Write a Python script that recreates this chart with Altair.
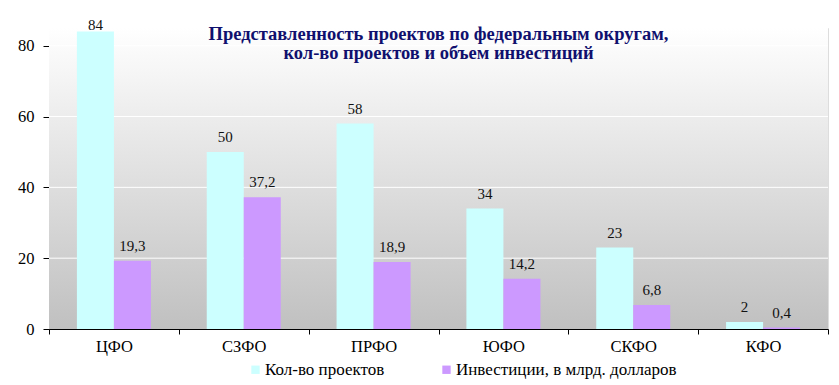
import altair as alt
import pandas as pd

districts = ["ЦФО", "СЗФО", "ПРФО", "ЮФО", "СКФО", "КФО"]
series_names = ["Кол-во проектов", "Инвестиции, в млрд. долларов"]
projects = [84, 50, 58, 34, 23, 2]
investments = [19.3, 37.2, 18.9, 14.2, 6.8, 0.4]
colors = ["#CCFFFF", "#CC99FF"]
y_ticks = [0, 20, 40, 60, 80]

rows = []
for d, p, inv in zip(districts, projects, investments):
    rows.append({"district": d, "series": series_names[0], "value": p, "label": str(p)})
    rows.append({"district": d, "series": series_names[1], "value": inv, "label": str(inv).replace(".", ",")})
df = pd.DataFrame(rows)
grid_df = pd.DataFrame({"value": [t for t in y_ticks if t > 0]})

FONT = "Times New Roman, Liberation Serif, serif"
W, H = 779, 301
Y_MAX = 85

x = alt.X("district:N", sort=districts, title=None,
          scale=alt.Scale(paddingInner=0, paddingOuter=0),
          axis=alt.Axis(labelAngle=0, tickBand="extent", labelFontSize=16.5, labelFont=FONT,
                        labelColor="#000000", tickColor="#000000", domainColor="#000000",
                        tickSize=5, labelPadding=4, grid=False))
xo = alt.XOffset("series:N", sort=series_names,
                 scale=alt.Scale(paddingInner=0, paddingOuter=0.754))
yscale = alt.Scale(domain=[0, Y_MAX], nice=False)
yaxis = alt.Axis(values=y_ticks, labelFontSize=16.5, labelFont=FONT, labelColor="#000000",
                 tickColor="#000000", domainColor="#000000", tickSize=6, labelPadding=9,
                 grid=False)
y = alt.Y("value:Q", title=None, scale=yscale, axis=yaxis)

bg = alt.Chart(pd.DataFrame({"k": [0]})).mark_rect(
    color=alt.LinearGradient(gradient="linear",
                             stops=[alt.GradientStop(color="#ffffff", offset=0),
                                    alt.GradientStop(color="#c0c0c0", offset=1)],
                             x1=0, x2=0, y1=0, y2=1)
).encode(x=alt.value(0), x2=alt.value(W), y=alt.value(0), y2=alt.value(H))

grid = alt.Chart(grid_df).mark_rule(color="#ffffff", strokeWidth=1).encode(y=y)

bars = alt.Chart(df).mark_bar().encode(
    x=x, xOffset=xo, y=y,
    color=alt.Color("series:N", sort=series_names,
                    scale=alt.Scale(domain=series_names, range=colors),
                    legend=alt.Legend(title=None, orient="none", direction="horizontal",
                                      legendX=198, legendY=333, symbolType="square",
                                      symbolSize=70, symbolStrokeWidth=0, labelFontSize=17,
                                      labelFont=FONT, labelColor="#000000", labelOffset=1,
                                      labelLimit=400, columnPadding=53, symbolOpacity=1)),
)

# labels are kept inside the plot area (as the spreadsheet does for the tallest bar)
labels = alt.Chart(df).transform_calculate(
    label_pos="min(datum.value, 81.5)"
).mark_text(baseline="alphabetic", dy=-10, fontSize=15, font=FONT,
            color="#111111").encode(
    x=x, xOffset=xo,
    y=alt.Y("label_pos:Q", title=None, scale=yscale, axis=yaxis),
    text="label:N"
)

chart = alt.layer(bg, grid, bars, labels).properties(
    width=W, height=H,
    autosize=alt.AutoSizeParams(type="none"),
    padding={"left": 41, "top": 20, "right": 3, "bottom": 56},
    title=alt.TitleParams(
        text=["Представленность проектов по федеральным округам,",
              "кол-во проектов и объем инвестиций"],
        font=FONT, fontSize=18.5, fontWeight="bold", color="#10106e",
        anchor="middle", offset=-44, lineHeight=19,
    ),
).configure_view(stroke=None).configure(background="#ffffff")

chart.save("out.html", embed_options={"renderer": "svg", "actions": False})
